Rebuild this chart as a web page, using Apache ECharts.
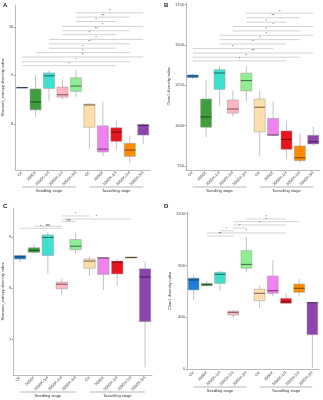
<!DOCTYPE html>
<html>
<head>
<meta charset="utf-8">
<script src="https://cdn.jsdelivr.net/npm/echarts@6/dist/echarts.min.js"></script>
<style>
  html, body { margin: 0; padding: 0; background: #fff; }
  #chart { width: 323px; height: 400px; }
</style>
</head>
<body>
<div id="chart"></div>
<script>
// x categories (seedling stage 5 + tasselling stage 5)
const categories = ['CK', '2000X', '2000X-1/4', '2000X-2/4', '2000X-3/4',
                    'CK', '2000X', '2000X-1/4', '2000X-2/4', '2000X-3/4'];
const boxColors = ['#1f7fd8', '#3f9f3f', '#40e0d0', '#ffb6c1', '#90ee90',
                   '#ffdeab', '#ee82ee', '#e8141c', '#ff8c00', '#8e44ad'];
const stageNames = ['Seedling stage', 'Tasselling stage'];

// [min, Q1, median, Q3, max]
const shannonSeedA = [
  [8.73, 8.74, 8.75, 8.755, 8.76], [8.14, 8.29, 8.45, 8.72, 9.0], [8.48, 8.73, 8.99, 9.05, 9.10],
  [8.51, 8.55, 8.60, 8.76, 8.92], [8.56, 8.67, 8.78, 8.95, 9.11], [7.49, 7.93, 8.39, 8.41, 8.42],
  [7.34, 7.42, 7.48, 7.96, 8.46], [7.46, 7.64, 7.83, 7.92, 8.06], [7.19, 7.33, 7.46, 7.60, 7.75],
  [7.58, 7.77, 7.97, 7.99, 8.01]
];
const chaoB = [
  [1289, 1297, 1308, 1314, 1322], [928, 990, 1054, 1165, 1281], [1124, 1225, 1326, 1347, 1372],
  [1056, 1077, 1103, 1159, 1217], [1151, 1215, 1279, 1325, 1370], [810, 961, 1114, 1165, 1217],
  [938, 940, 942, 1045, 1151], [791, 853, 915, 967, 1023], [770, 783, 801, 874, 953],
  [874, 886, 900, 940, 994]
];
const shannonC = [
  [8.51, 8.57, 8.61, 8.64, 8.66], [8.68, 8.70, 8.74, 8.79, 8.87], [8.28, 8.64, 8.99, 9.04, 9.09],
  [7.88, 7.99, 8.08, 8.12, 8.18], [8.67, 8.75, 8.82, 8.95, 9.09], [8.24, 8.39, 8.53, 8.57, 8.62],
  [7.97, 8.27, 8.59, 8.60, 8.61], [8.05, 8.28, 8.51, 8.53, 8.56], [8.58, 8.59, 8.60, 8.61, 8.62],
  [6.46, 7.35, 8.22, 8.38, 8.52]
];
const chaoD = [
  [530, 610, 687, 702, 731], [635, 643, 651, 661, 677], [602, 661, 731, 747, 759],
  [393, 416, 437, 445, 455], [747, 778, 808, 914, 1020], [470, 527, 584, 615, 643],
  [563, 584, 604, 718, 839], [501, 507, 519, 545, 584], [563, 592, 623, 656, 695],
  [8, 264, 512, 514, 516]
];

// significance brackets: [from, to, y, label]
const sigA = [
  [4, 9, 10.29, '*'], [4, 8, 10.20, '**'], [4, 7, 10.11, '*'], [3, 9, 10.01, '*'],
  [3, 8, 9.92, '**'], [3, 7, 9.84, '*'], [2, 9, 9.74, '*'], [2, 8, 9.65, '**'],
  [2, 7, 9.56, '*'], [1, 8, 9.47, '*'], [0, 9, 9.38, '*'], [0, 8, 9.28, '*'], [0, 7, 9.20, '*']
];
const sigB = [
  [4, 9, 1697, '*'], [4, 8, 1669, '**'], [4, 7, 1641, '*'], [3, 9, 1614, '*'],
  [3, 8, 1587, '*'], [2, 9, 1560, '*'], [2, 8, 1533, '*'], [2, 7, 1506, '*'],
  [0, 6, 1477, '*'], [0, 9, 1450, '**'], [0, 8, 1424, '*'], [0, 7, 1401, '*']
];
const sigC = [
  [3, 5, 9.41, '*'], [3, 8, 9.35, '*'], [3, 4, 9.30, 'ns'], [1, 3, 9.21, 'ns'], [0, 3, 9.17, '*']
];
const sigD = [
  [4, 7, 1159, '*'], [3, 8, 1138, '*'], [3, 7, 1113, '*'], [3, 4, 1089, '*'],
  [2, 3, 1068, '*'], [1, 7, 1051, '*'], [1, 3, 1027, '**']
];

const ticksA = [8, 9, 10];
const ticksB = [750, 1000, 1250, 1500, 1750];
const ticksC = [7, 8, 9];
const ticksD = [0, 400, 800, 1200];

const panels = [
  { letter: 'A', lx: 3, ly: 2, data: shannonSeedA, sig: sigA, ticks: ticksA, min: 7.05, max: 10.45,
    name: 'Shannon_entropy diversity index', grid: { left: 13, top: 5, width: 137, height: 165 } },
  { letter: 'B', lx: 164, ly: 2, data: chaoB, sig: sigB, ticks: ticksB, min: 725, max: 1760,
    name: 'Chao1 diversity index', grid: { left: 186, top: 3, width: 134, height: 167 } },
  { letter: 'C', lx: 3, ly: 203, data: shannonC, sig: sigC, ticks: ticksC, min: 6.31, max: 9.565,
    name: 'Shannon_entropy diversity index', grid: { left: 13, top: 208, width: 139, height: 167 } },
  { letter: 'D', lx: 164, ly: 203, data: chaoD, sig: sigD, ticks: ticksD, min: -9, max: 1213,
    name: 'Chao1 diversity index', grid: { left: 187, top: 212, width: 132, height: 158 } }
];

const FONT = 'Liberation Sans, Arial, sans-serif';
const chart = echarts.init(document.getElementById('chart'));

function renderBox(params, api) {
  const i = api.value(0);
  const pMin = api.coord([i, api.value(1)]);
  const pQ1 = api.coord([i, api.value(2)]);
  const pMed = api.coord([i, api.value(3)]);
  const pQ3 = api.coord([i, api.value(4)]);
  const pMax = api.coord([i, api.value(5)]);
  const w = api.size([1, 0])[0] * 0.82;
  const x = pMed[0];
  return {
    type: 'group',
    children: [
      { type: 'line', shape: { x1: x, y1: pMax[1], x2: x, y2: pMin[1] },
        style: { stroke: '#a8a8a8', lineWidth: 0.7 } },
      { type: 'rect', shape: { x: x - w / 2, y: pQ3[1], width: w, height: Math.max(pQ1[1] - pQ3[1], 1) },
        style: { fill: boxColors[i], stroke: '#9a9a9a', lineWidth: 0.5 } },
      { type: 'line', shape: { x1: x - w / 2, y1: pMed[1], x2: x + w / 2, y2: pMed[1] },
        style: { stroke: 'rgba(0,0,0,0.55)', lineWidth: 1 } }
    ]
  };
}

function makeBracketRenderer(sig) {
  return function (params, api) {
    const p1 = api.coord([api.value(0), api.value(2)]);
    const p2 = api.coord([api.value(1), api.value(2)]);
    return {
      type: 'group',
      children: [
        { type: 'line', shape: { x1: p1[0], y1: p1[1], x2: p2[0], y2: p2[1] },
          style: { stroke: '#b4b4b4', lineWidth: 0.6 } },
        { type: 'text', style: { text: sig[params.dataIndex][3], x: (p1[0] + p2[0]) / 2, y: p1[1] + 0.3,
          align: 'center', verticalAlign: 'bottom', fontSize: 4, fill: '#333', fontFamily: FONT } }
      ]
    };
  };
}

const option = {
  animation: false,
  backgroundColor: '#fff',
  grid: panels.map(p => Object.assign({ containLabel: false }, p.grid)),
  xAxis: panels.map((p, k) => ({
    type: 'category', gridIndex: k, data: categories,
    axisLine: { lineStyle: { color: '#b9b9c6', width: 1 } },
    axisTick: { length: 2, lineStyle: { color: '#b9b9c6' } },
    axisLabel: { rotate: 45, fontSize: 4, margin: 2, color: '#444', interval: 0, fontFamily: FONT }
  })),
  yAxis: panels.map((p, k) => ({
    type: 'value', gridIndex: k, min: p.min, max: p.max,
    name: p.name, nameLocation: 'middle', nameGap: 8,
    nameTextStyle: { fontSize: 4, color: '#333', fontFamily: FONT },
    splitLine: { show: false },
    axisLine: { show: true, lineStyle: { color: '#b9b9c6', width: 1 } },
    axisTick: { show: true, length: 1.5, customValues: p.ticks, lineStyle: { color: '#999' } },
    axisLabel: { fontSize: 4, margin: 2, color: '#444', customValues: p.ticks, fontFamily: FONT,
      formatter: v => String(v) }
  })),
  series: []
};

panels.forEach((p, k) => {
  option.series.push({
    type: 'custom', xAxisIndex: k, yAxisIndex: k,
    renderItem: renderBox,
    encode: { x: 0, y: [1, 2, 3, 4, 5] },
    data: p.data.map((d, i) => [i].concat(d))
  });
  option.series.push({
    type: 'custom', xAxisIndex: k, yAxisIndex: k,
    renderItem: makeBracketRenderer(p.sig),
    encode: { x: [0, 1], y: 2 },
    data: p.sig.map(s => [s[0], s[1], s[2]])
  });
});

chart.setOption(option);

// panel letters and stage group labels under each x axis
const graphics = [];
panels.forEach((p, k) => {
  const g = p.grid;
  graphics.push({ type: 'text', left: p.lx, top: p.ly,
    style: { text: p.letter, fontSize: 6, fontWeight: 'bold', fill: '#222', fontFamily: FONT } });
  const yLine = g.top + g.height + 17;
  [[0, 4], [5, 9]].forEach((r, s) => {
    const x1 = chart.convertToPixel({ xAxisIndex: k }, r[0]);
    const x2 = chart.convertToPixel({ xAxisIndex: k }, r[1]);
    graphics.push({ type: 'line', shape: { x1: x1, y1: yLine, x2: x2, y2: yLine },
      style: { stroke: '#888', lineWidth: 0.6 } });
    graphics.push({ type: 'text', x: (x1 + x2) / 2, y: yLine + 2,
      style: { text: stageNames[s], fontSize: 4, fill: '#333', align: 'center', verticalAlign: 'top', fontFamily: FONT } });
  });
});
chart.setOption({ graphic: graphics });
</script>
</body>
</html>
